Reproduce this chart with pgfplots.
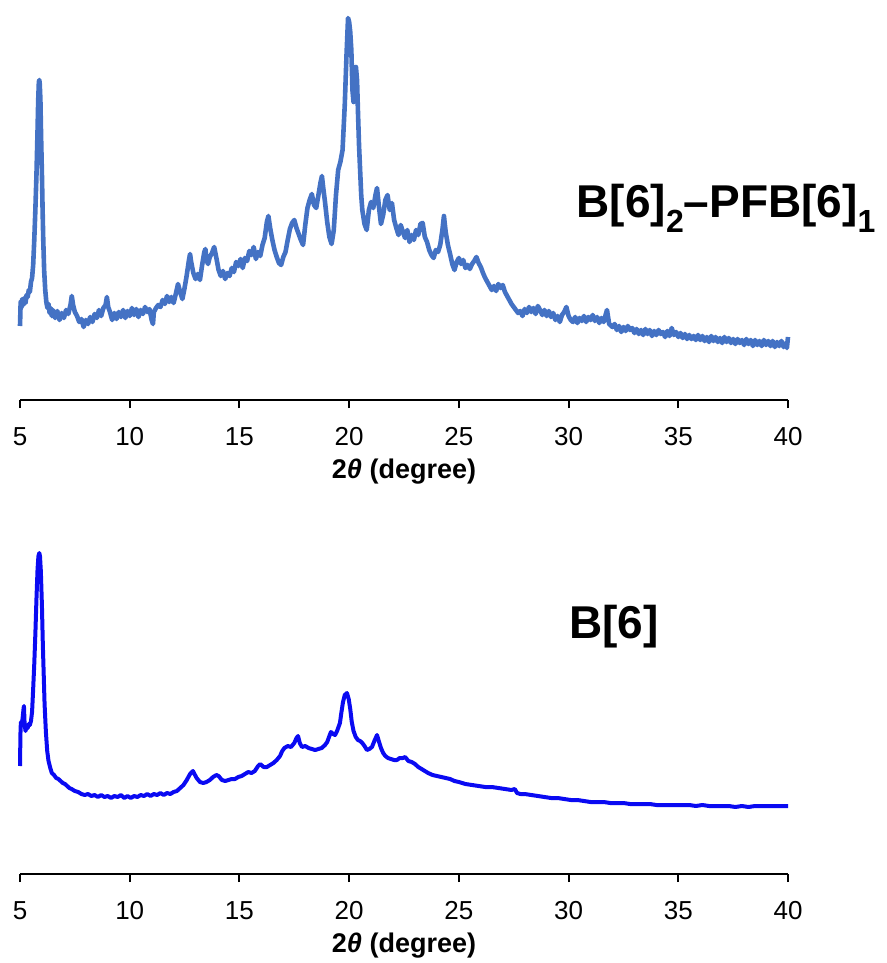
\documentclass[border=0pt]{standalone}
\usepackage{pgfplots}
\pgfplotsset{compat=1.18}
\usepackage{pgfplotstable}
\usepackage{fontspec}
\setmainfont{Liberation Sans}
\definecolor{topblue}{HTML}{4472C4}
\definecolor{botblue}{HTML}{0A0AF2}

\pgfplotstableread{
x y
5.00 74
5.03 98
5.07 93
5.10 101
5.15 95
5.20 102
5.25 97
5.30 105
5.35 103
5.40 110
5.45 108
5.50 118
5.55 122
5.60 135
5.65 160
5.70 190
5.75 225
5.80 270
5.83 300
5.86 318
5.88 320
5.90 316
5.93 300
5.96 265
6.00 225
6.03 190
6.06 160
6.10 130
6.15 110
6.20 98
6.25 92
6.30 96
6.35 87
6.40 92
6.45 84
6.50 90
6.60 82
6.70 89
6.80 80
6.90 87
7.00 82
7.10 90
7.20 86
7.30 95
7.36 104
7.42 95
7.50 88
7.60 84
7.70 78
7.80 81
7.90 73
8.00 80
8.10 76
8.20 83
8.30 78
8.40 86
8.50 82
8.60 90
8.70 84
8.80 92
8.90 95
8.96 103
9.02 93
9.10 88
9.20 80
9.30 87
9.40 81
9.50 88
9.60 83
9.70 90
9.80 82
9.90 89
10.00 84
10.10 92
10.20 85
10.30 91
10.40 83
10.50 90
10.60 86
10.70 93
10.80 88
10.90 91
11.00 80
11.06 76
11.10 88
11.20 92
11.30 95
11.40 93
11.50 100
11.60 96
11.70 104
11.80 98
11.90 103
12.00 97
12.10 106
12.20 116
12.30 108
12.40 101
12.50 112
12.60 125
12.70 140
12.75 146
12.80 138
12.90 127
13.00 121
13.10 126
13.20 120
13.30 135
13.40 148
13.45 151
13.50 140
13.57 136
13.65 143
13.75 147
13.85 153
13.95 142
14.05 130
14.15 124
14.25 129
14.35 121
14.45 127
14.55 124
14.65 132
14.75 128
14.85 138
14.95 134
15.05 141
15.15 132
15.25 142
15.35 139
15.45 149
15.55 145
15.65 153
15.75 141
15.85 148
15.95 144
16.05 155
16.15 162
16.25 178
16.32 184
16.40 172
16.50 160
16.60 150
16.70 143
16.80 137
16.90 135
17.00 143
17.10 148
17.20 160
17.30 171
17.40 177
17.50 180
17.60 172
17.70 166
17.80 160
17.90 155
18.00 175
18.10 192
18.20 200
18.30 206
18.40 195
18.50 192
18.60 205
18.70 218
18.76 224
18.82 212
18.90 198
19.00 178
19.10 163
19.20 156
19.30 170
19.40 205
19.50 230
19.60 238
19.70 250
19.80 295
19.88 345
19.95 382
20.00 378
20.05 368
20.10 350
20.15 310
20.20 298
20.25 320
20.31 333
20.36 320
20.40 290
20.45 255
20.50 230
20.55 205
20.60 190
20.70 176
20.80 170
20.90 190
21.00 198
21.10 192
21.20 205
21.27 212
21.35 195
21.45 176
21.55 185
21.65 200
21.75 205
21.85 190
21.95 197
22.05 180
22.15 172
22.25 165
22.35 175
22.45 168
22.55 162
22.65 170
22.75 158
22.85 165
22.95 160
23.05 170
23.15 165
23.25 176
23.35 177
23.45 163
23.55 158
23.65 150
23.75 145
23.85 142
23.95 150
24.05 148
24.15 155
24.25 170
24.32 184
24.40 168
24.50 155
24.60 146
24.70 136
24.80 130
24.90 138
25.00 142
25.10 136
25.20 140
25.30 132
25.40 135
25.50 131
25.60 136
25.70 139
25.80 143
25.90 137
26.00 133
26.10 127
26.20 122
26.30 118
26.40 114
26.50 110
26.60 114
26.70 109
26.80 116
26.90 112
27.00 115
27.10 108
27.20 104
27.30 100
27.40 96
27.50 93
27.60 90
27.70 87
27.80 89
27.90 84
28.00 91
28.10 87
28.20 93
28.30 88
28.40 92
28.50 86
28.60 94
28.70 90
28.80 85
28.90 90
29.00 84
29.10 89
29.20 83
29.30 87
29.40 80
29.50 84
29.60 78
29.70 85
29.80 88
29.90 93
30.00 84
30.10 80
30.20 78
30.30 83
30.40 77
30.50 82
30.60 79
30.70 84
30.80 78
30.90 83
31.00 80
31.10 85
31.20 79
31.30 83
31.40 77
31.50 82
31.60 78
31.75 90
31.85 76
32.00 73
32.10 76
32.20 70
32.30 74
32.40 68
32.50 73
32.60 69
32.70 74
32.80 70
32.90 72
33.00 67
33.10 71
33.20 66
33.30 70
33.40 65
33.50 71
33.60 66
33.70 70
33.80 64
33.90 69
34.00 65
34.10 70
34.20 66
34.30 68
34.40 63
34.50 69
34.60 64
34.70 72
34.80 65
34.90 68
35.00 63
35.10 67
35.20 62
35.30 66
35.40 61
35.50 65
35.60 61
35.70 64
35.80 60
35.90 65
36.00 60
36.10 64
36.20 59
36.30 63
36.40 58
36.50 64
36.60 59
36.70 63
36.80 58
36.90 62
37.00 57
37.10 63
37.20 58
37.30 62
37.40 57
37.50 61
37.60 56
37.70 61
37.80 57
37.90 60
38.00 55
38.10 61
38.20 56
38.30 60
38.40 54
38.50 60
38.60 55
38.70 59
38.80 54
38.90 60
39.00 55
39.10 59
39.20 54
39.30 59
39.40 53
39.50 58
39.60 54
39.70 59
39.80 53
39.90 57
39.95 52
40.00 63
}\topdata

\pgfplotstableread{
x y
5.00 108
5.02 140
5.04 152
5.08 149
5.12 156
5.16 165
5.18 168
5.21 150
5.25 143
5.30 147
5.35 146
5.40 150
5.45 149
5.50 153
5.55 162
5.60 185
5.65 210
5.70 240
5.75 275
5.80 305
5.84 318
5.88 321
5.91 318
5.95 303
6.00 268
6.04 230
6.08 200
6.12 170
6.18 142
6.24 123
6.30 113
6.38 106
6.45 101
6.55 99
6.65 96
6.75 95
6.85 93
6.95 91
7.05 90
7.15 88
7.25 86
7.35 85
7.50 83
7.65 82
7.80 80
7.95 79
8.10 80
8.25 78
8.40 79
8.55 77
8.70 79
8.85 77
9.00 78
9.15 76
9.30 78
9.45 77
9.60 79
9.75 76
9.90 78
10.05 76
10.20 78
10.35 77
10.50 79
10.65 78
10.80 80
10.95 78
11.10 80
11.25 79
11.40 81
11.55 79
11.70 81
11.85 80
12.00 82
12.15 83
12.30 86
12.45 89
12.60 94
12.75 100
12.88 103
12.95 100
13.05 96
13.20 92
13.35 91
13.50 92
13.65 94
13.80 97
13.95 99
14.05 98
14.20 94
14.35 93
14.50 94
14.65 95
14.80 95
14.95 97
15.10 98
15.25 100
15.40 102
15.55 101
15.70 103
15.85 108
15.95 110
16.10 107
16.25 107
16.40 109
16.55 111
16.70 114
16.85 118
16.95 123
17.05 126
17.20 128
17.35 127
17.50 131
17.60 136
17.67 138
17.75 131
17.85 127
18.00 128
18.15 126
18.30 125
18.45 124
18.60 125
18.75 126
18.90 129
19.00 132
19.10 138
19.17 142
19.27 140
19.36 139
19.45 143
19.58 151
19.65 162
19.72 172
19.80 179
19.90 181
19.98 175
20.05 165
20.12 152
20.20 143
20.30 137
20.40 134
20.50 133
20.60 131
20.70 128
20.81 124
20.92 125
21.04 127
21.15 133
21.27 139
21.35 133
21.45 126
21.55 121
21.65 118
21.77 116
21.90 115
22.05 114
22.18 114
22.30 116
22.45 116
22.55 117
22.70 113
22.85 112
23.00 110
23.15 107
23.30 105
23.45 103
23.60 101
23.80 99
24.00 98
24.20 97
24.40 96
24.60 95
24.80 93
25.00 92
25.30 90
25.60 89
25.90 88
26.20 87
26.50 87
26.80 86
27.10 85
27.40 84
27.55 85
27.65 81
27.80 80
28.00 80
28.30 79
28.60 78
28.90 77
29.20 76
29.50 76
29.80 75
30.10 74
30.40 74
30.70 73
31.00 72
31.30 72
31.60 72
31.90 71
32.20 71
32.50 71
32.80 70
33.10 70
33.40 70
33.70 70
34.00 69
34.30 69
34.60 69
34.90 69
35.20 69
35.50 69
35.80 68
36.10 69
36.40 68
36.70 68
37.00 68
37.30 68
37.60 67
37.90 68
38.20 67
38.50 68
38.80 68
39.10 68
39.40 68
39.70 68
40.00 68
}\botdata

\pgfplotsset{xrdaxis/.style={
  width=384pt, scale only axis, xmin=5, xmax=40, ymin=0,
  axis x line*=bottom, axis y line=none,
  xtick={5,10,...,40}, xtick align=outside, major tick length=4pt,
  axis line style={line width=1pt, black}, tick style={line width=1pt, black},
  /pgf/number format/assume math mode=true,
  xticklabel style={font=\fontsize{13}{13}\selectfont, anchor=base, yshift=-18.5pt},
  xlabel={\textbf{2\textit{θ} (degree)}},
  xlabel style={font=\fontsize{13.5}{14}\selectfont, at={(axis description cs:0.5,0)}, anchor=base, yshift=-39pt},
  clip=false,
}}

\begin{document}
\begin{tikzpicture}
\useasboundingbox (-10pt,-281.5pt) rectangle (433.5pt,200pt);
\begin{axis}[xrdaxis, height=200pt, ymax=400, at={(0,0)}, anchor=south west]
\addplot[topblue, line width=2.3pt, line join=round] table {\topdata};
\node[anchor=base west, inner sep=0, font=\fontsize{23}{23}\selectfont\bfseries] at (axis cs:30.35,182) {B[6]\raisebox{-7.5pt}{\fontsize{16}{16}\selectfont 2}\textendash PFB[6]\raisebox{-7.5pt}{\fontsize{16}{16}\selectfont 1}};
\end{axis}
\begin{axis}[xrdaxis, height=175pt, ymax=350, at={(0,-237pt)}, anchor=south west]
\addplot[botblue, line width=2pt, line join=round] table {\botdata};
\node[anchor=base west, inner sep=0, font=\fontsize{23}{23}\selectfont\bfseries] at (axis cs:30.02,236) {B[6]};
\end{axis}
\end{tikzpicture}
\end{document}
